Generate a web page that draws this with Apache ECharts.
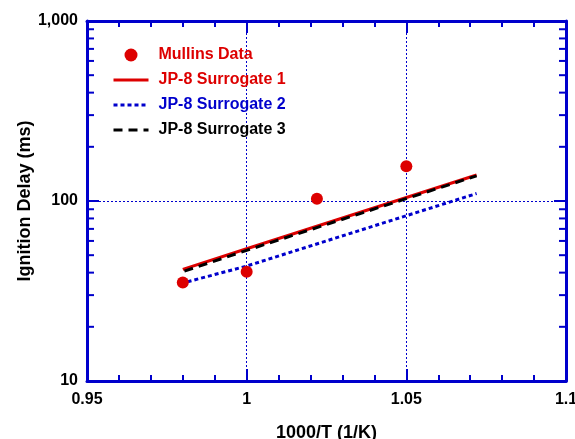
<!DOCTYPE html>
<html>
<head>
<meta charset="utf-8">
<script src="https://cdn.jsdelivr.net/npm/echarts@6/dist/echarts.min.js"></script>
<style>
  html, body { margin: 0; padding: 0; background: #fff; }
  #chart { width: 575px; height: 439px; }
</style>
</head>
<body>
<div id="chart"></div>
<script>
  // data
  var mullinsData = [[0.98, 35.3], [1.0, 40.5], [1.022, 103], [1.05, 156]]
  var surrogate1 = [[0.98, 41.7], [1.0, 54.3], [1.072, 139.4]]
  var surrogate2 = [[0.9815, 35.6], [1.0, 43.5], [1.072, 110]]
  var surrogate3 = [[0.9805, 40.8], [1.0, 53.2], [1.072, 138]]
  var yMinorTicks = [20, 30, 40, 50, 60, 70, 80, 90, 200, 300, 400, 500, 600, 700, 800, 900]
  var xTickLabels = ['0.95', '1', '1.05', '1.1']

  var blue = '#0000cc'
  var red = '#dd0000'
  var font = 'Liberation Sans, Arial, sans-serif'

  var chart = echarts.init(document.getElementById('chart'))

  var axisLine = { lineStyle: { color: blue, width: 3 } }
  var hideDot = { opacity: 0 }

  chart.setOption({
    backgroundColor: '#fff',
    animation: false,
    grid: { left: 87, right: 9, top: 21, bottom: 58, outerBoundsMode: 'none', containLabel: false },
    legend: {
      left: 107,
      top: 42,
      orient: 'vertical',
      itemWidth: 35,
      itemHeight: 13,
      itemGap: 9,
      lineStyle: { width: 3 },
      textStyle: { fontFamily: font, fontWeight: 'bold', fontSize: 16, padding: [0, 0, 0, 5] },
      data: [
        { name: 'Mullins Data', textStyle: { color: red } },
        { name: 'JP-8 Surrogate 1', textStyle: { color: red }, itemStyle: hideDot },
        { name: 'JP-8 Surrogate 2', textStyle: { color: blue }, itemStyle: hideDot },
        { name: 'JP-8 Surrogate 3', textStyle: { color: '#000' }, itemStyle: hideDot }
      ]
    },
    xAxis: [{
      type: 'value',
      min: 0.95, max: 1.1, interval: 0.05,
      name: '1000/T (1/K)',
      nameLocation: 'middle',
      nameGap: 43,
      nameMoveOverlap: false,
      nameTextStyle: { fontFamily: font, fontWeight: 'bold', fontSize: 18, color: '#000' },
      axisLine: axisLine,
      axisTick: { inside: true, length: 12, lineStyle: { color: blue, width: 2 } },
      minorTick: { show: true, splitNumber: 5, length: 6, lineStyle: { color: blue, width: 2 } },
      axisLabel: {
        margin: 11,
        fontFamily: font, fontWeight: 'bold', fontSize: 16, color: '#000',
        formatter: function (v) {
          var i = Math.round((v - 0.95) / 0.05)
          return xTickLabels[i]
        }
      },
      splitLine: { show: true, lineStyle: { color: blue, type: [2, 2], width: 1 } }
    }, {
      type: 'value',
      position: 'top',
      min: 0.95, max: 1.1, interval: 0.05,
      axisLine: axisLine,
      axisTick: { inside: true, length: 12, lineStyle: { color: blue, width: 2 } },
      minorTick: { show: true, splitNumber: 5, length: 6, lineStyle: { color: blue, width: 2 } },
      axisLabel: { show: false },
      splitLine: { show: false }
    }],
    yAxis: [{
      type: 'log',
      logBase: 10,
      min: 10, max: 1000,
      name: 'Ignition Delay (ms)',
      nameLocation: 'middle',
      nameRotate: 90,
      nameGap: 53,
      nameMoveOverlap: false,
      nameTextStyle: { fontFamily: font, fontWeight: 'bold', fontSize: 18, color: '#000' },
      axisLine: axisLine,
      axisTick: { inside: true, length: 12, lineStyle: { color: blue, width: 2 } },
      axisLabel: {
        margin: 9,
        fontFamily: font, fontWeight: 'bold', fontSize: 16, color: '#000',
        formatter: function (v) { return v >= 1000 ? '1,000' : String(v) }
      },
      splitLine: { show: true, lineStyle: { color: blue, type: [2, 2], width: 1 } }
    }, {
      type: 'log',
      logBase: 10,
      position: 'right',
      min: 10, max: 1000,
      axisLine: axisLine,
      axisTick: { inside: true, length: 12, lineStyle: { color: blue, width: 2 } },
      axisLabel: { show: false },
      splitLine: { show: false }
    }],
    series: [
      {
        // minor log ticks on left and right axes
        type: 'custom',
        silent: true,
        z: 5,
        data: yMinorTicks.map(function (v) { return [1.0, v] }),
        renderItem: function (params, api) {
          var y = api.coord([0.95, api.value(1)])[1]
          var cs = params.coordSys
          var style = { stroke: blue, lineWidth: 2 }
          return {
            type: 'group',
            children: [
              { type: 'line', shape: { x1: cs.x, y1: y, x2: cs.x + 7, y2: y }, style: style },
              { type: 'line', shape: { x1: cs.x + cs.width - 7, y1: y, x2: cs.x + cs.width, y2: y }, style: style }
            ]
          }
        }
      },
      {
        name: 'JP-8 Surrogate 1',
        type: 'line',
        symbol: 'none',
        z: 3,
        data: surrogate1,
        lineStyle: { color: red, width: 3 },
        itemStyle: { color: red }
      },
      {
        name: 'JP-8 Surrogate 2',
        type: 'line',
        symbol: 'none',
        z: 3,
        data: surrogate2,
        lineStyle: { color: blue, width: 3, type: [4, 3] },
        itemStyle: { color: blue }
      },
      {
        name: 'JP-8 Surrogate 3',
        type: 'line',
        symbol: 'none',
        z: 4,
        data: surrogate3,
        lineStyle: { color: '#000', width: 3, type: [9, 6] },
        itemStyle: { color: '#000' }
      },
      {
        name: 'Mullins Data',
        type: 'scatter',
        symbol: 'circle',
        symbolSize: 12,
        z: 6,
        data: mullinsData,
        itemStyle: { color: red, opacity: 1 }
      }
    ]
  })
</script>
</body>
</html>
